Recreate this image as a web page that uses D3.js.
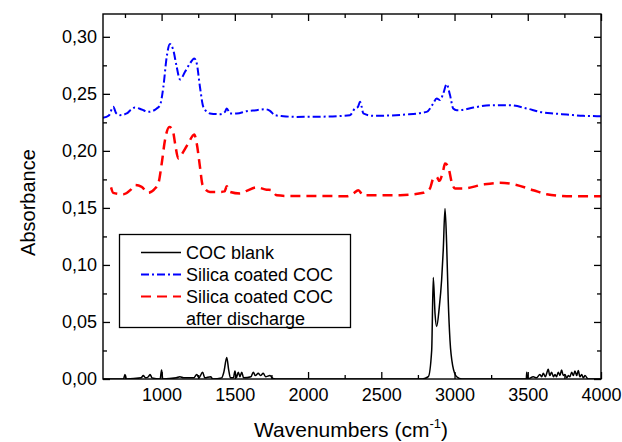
<!DOCTYPE html>
<html>
<head>
<meta charset="utf-8">
<script src="https://cdn.jsdelivr.net/npm/d3@7"></script>
<style>
  html, body { margin: 0; padding: 0; background: #fff; }
  svg { display: block; font-family: "Liberation Sans", Arial, sans-serif; }
</style>
</head>
<body>
<svg id="chart" width="622" height="442"></svg>
<script>
// FTIR spectra: wavenumber (cm-1) and absorbance for each sample
const blankWn = [600, 740, 750, 760, 860, 875, 890, 910, 921, 935, 990, 1000, 1008, 1100, 1125, 1150,
  1220, 1240, 1255, 1280, 1295, 1335, 1350, 1410, 1425, 1445, 1458, 1470, 1490, 1501, 1510, 1524,
  1535, 1547, 1560, 1610, 1626, 1640, 1660, 1675, 1694, 1710, 1740, 1760, 1800, 2780, 2821, 2844,
  2855, 2867, 2878, 2896, 2912, 2923, 2935, 2946, 2957, 2969, 2987, 3015, 3050, 3490, 3493, 3500,
  3538, 3560, 3583, 3595, 3606, 3620, 3640, 3650, 3663, 3675, 3686, 3697, 3708, 3720, 3731, 3742,
  3754, 3766, 3777, 3788, 3800, 3811, 3822, 3834, 3845, 3856, 3868, 3880, 3890, 3913, 4000];
const blankAbs = [0, 0, 0.004, 0, 0.001, 0.003, 0.001, 0.002, 0.004, 0.001, 0, 0.008, 0, 0.001, 0.002, 0.001,
  0.001, 0.004, 0.001, 0.006, 0.001, 0.002, 0, 0.001, 0.006, 0.0188, 0.008, 0.001, 0.001, 0.007, 0.001, 0.006,
  0.002, 0.006, 0.001, 0.002, 0.006, 0.003, 0.005, 0.003, 0.005, 0.002, 0.003, 0.0005, 0, 0, 0.002, 0.025,
  0.089, 0.057, 0.046, 0.063, 0.087, 0.113, 0.1495, 0.119, 0.069, 0.034, 0.012, 0.002, 0, 0, 0.006, 0,
  0.002, 0.001, 0.004, 0.002, 0.005, 0.002, 0.0085, 0.003, 0.006, 0.002, 0.004, 0.002, 0.006, 0.003, 0.008, 0.003,
  0.004, 0.001, 0.003, 0.002, 0.006, 0.003, 0.007, 0.003, 0.0075, 0.002, 0.004, 0.001, 0.003, 0, 0];

const coatedWn = [600, 640, 670, 690, 716, 762, 790, 818, 864, 909, 940, 967, 989, 1012, 1035, 1057,
  1080, 1103, 1126, 1160, 1194, 1223, 1240, 1262, 1285, 1330, 1399, 1433, 1445, 1467, 1513, 1581,
  1649, 1706, 1740, 1774, 1831, 1922, 2100, 2286, 2320, 2340, 2355, 2366, 2377, 2445, 2673, 2810,
  2855, 2878, 2901, 2923, 2946, 2969, 2991, 3015, 3037, 3128, 3265, 3379, 3493, 3583, 3674, 3766,
  3879, 4000];
const coatedAbs = [0.229, 0.231, 0.2386, 0.233, 0.2313, 0.2328, 0.236, 0.238, 0.2363, 0.2342, 0.235, 0.2372, 0.240, 0.256, 0.2825, 0.2936,
  0.2883, 0.2737, 0.2626, 0.2693, 0.2767, 0.281, 0.2767, 0.256, 0.2386, 0.2328, 0.2322, 0.2342, 0.2372, 0.2328, 0.2328, 0.2348,
  0.2357, 0.2366, 0.2351, 0.2313, 0.2304, 0.2298, 0.2300, 0.2313, 0.2372, 0.2385, 0.243, 0.2386, 0.2328, 0.2307, 0.2319, 0.2342,
  0.2416, 0.246, 0.2445, 0.2503, 0.2585, 0.2489, 0.2372, 0.2357, 0.2357, 0.238, 0.2401, 0.240, 0.2372, 0.2342, 0.2328, 0.2319,
  0.2307, 0.2304];

const dischargedWn = [655, 670, 739, 790, 818, 864, 909, 955, 978, 1001, 1023, 1053, 1076, 1092, 1114, 1148,
  1182, 1223, 1240, 1262, 1280, 1330, 1399, 1430, 1445, 1467, 1535, 1581, 1649, 1717, 1752, 1786,
  1854, 1899, 2264, 2309, 2343, 2377, 2628, 2787, 2832, 2855, 2878, 2896, 2923, 2935, 2957, 2980,
  3003, 3060, 3196, 3310, 3401, 3538, 3629, 3766, 4000];
const dischargedAbs = [0.168, 0.1632, 0.162, 0.166, 0.170, 0.1684, 0.1632, 0.167, 0.1714, 0.189, 0.2094, 0.221, 0.2182, 0.2065, 0.1933, 0.1991,
  0.2065, 0.2144, 0.2065, 0.186, 0.170, 0.164, 0.164, 0.1645, 0.169, 0.164, 0.1626, 0.165, 0.168, 0.166, 0.1655, 0.161,
  0.1605, 0.1605, 0.1603, 0.1626, 0.1655, 0.161, 0.1612, 0.1632, 0.167, 0.1758, 0.1772, 0.1737, 0.183, 0.189, 0.186, 0.1728,
  0.167, 0.167, 0.1705, 0.172, 0.1708, 0.1655, 0.162, 0.1603, 0.1603];

const seriesNames = ["COC blank", "Silica coated COC", "Silica coated COC", "after discharge"];
const xMajorTicks = [1000, 1500, 2000, 2500, 3000, 3500, 4000];
const xMinorTicks = [750, 1250, 1750, 2250, 2750, 3250, 3750];
const yMajorTicks = [0, 0.05, 0.10, 0.15, 0.20, 0.25, 0.30];
const yMinorTicks = [0.025, 0.075, 0.125, 0.175, 0.225, 0.275];

const svg = d3.select("#chart");
const m = { left: 103, right: 601, top: 14, bottom: 379 };

const x = d3.scaleLinear().domain([600, 4000]).range([m.left, m.right]);
const y = d3.scaleLinear().domain([0, 0.32]).range([m.bottom, m.top]);

const fmt = d => d3.format(".2f")(d).replace(".", ",");

const series = [
  { wn: blankWn, abs: blankAbs, color: "#000", width: 1.5, dash: null },
  { wn: coatedWn, abs: coatedAbs, color: "#0000ff", width: 2, dash: "8,3,2,3" },
  { wn: dischargedWn, abs: dischargedAbs, color: "#ff0000", width: 2.5, dash: "10,6" }
];

const line = d3.line()
  .x(d => x(d[0]))
  .y(d => y(d[1]))
  .curve(d3.curveMonotoneX);

const plot = svg.append("g");
plot.append("defs").append("clipPath").attr("id", "clip")
  .append("rect").attr("x", m.left).attr("y", m.top)
  .attr("width", m.right - m.left).attr("height", m.bottom - m.top);

series.slice().reverse().forEach(s => {
  plot.append("path")
    .attr("clip-path", "url(#clip)")
    .attr("d", line(d3.zip(s.wn, s.abs)))
    .attr("fill", "none")
    .attr("stroke", s.color)
    .attr("stroke-width", s.width)
    .attr("stroke-dasharray", s.dash)
    .attr("stroke-linejoin", "round");
});

// Axes with inward ticks on all four sides
const axes = svg.append("g");
function styleAxis(g) {
  g.select(".domain").remove();
  g.selectAll("line").attr("stroke", "#000").attr("stroke-width", 1.3);
  g.selectAll("text").attr("fill", "#000").style("font-size", "18px")
    .style("font-family", "'Liberation Sans', Arial, sans-serif");
}

axes.append("g").attr("transform", `translate(0,${m.bottom})`)
  .call(d3.axisBottom(x).tickValues(xMajorTicks).tickSize(-7).tickPadding(9).tickFormat(d3.format("d")))
  .call(styleAxis);
axes.append("g").attr("transform", `translate(0,${m.bottom})`)
  .call(d3.axisBottom(x).tickValues(xMinorTicks).tickSize(-4).tickFormat(""))
  .call(styleAxis);
axes.append("g").attr("transform", `translate(0,${m.top})`)
  .call(d3.axisTop(x).tickValues(xMajorTicks).tickSize(-7).tickFormat(""))
  .call(styleAxis);
axes.append("g").attr("transform", `translate(0,${m.top})`)
  .call(d3.axisTop(x).tickValues(xMinorTicks).tickSize(-4).tickFormat(""))
  .call(styleAxis);

axes.append("g").attr("transform", `translate(${m.left},0)`)
  .call(d3.axisLeft(y).tickValues(yMajorTicks).tickSize(-7).tickPadding(6).tickFormat(fmt))
  .call(styleAxis);
axes.append("g").attr("transform", `translate(${m.left},0)`)
  .call(d3.axisLeft(y).tickValues(yMinorTicks).tickSize(-4).tickFormat(""))
  .call(styleAxis);
axes.append("g").attr("transform", `translate(${m.right},0)`)
  .call(d3.axisRight(y).tickValues(yMajorTicks).tickSize(-7).tickFormat(""))
  .call(styleAxis);
axes.append("g").attr("transform", `translate(${m.right},0)`)
  .call(d3.axisRight(y).tickValues(yMinorTicks).tickSize(-4).tickFormat(""))
  .call(styleAxis);

axes.append("rect")
  .attr("x", m.left).attr("y", m.top)
  .attr("width", m.right - m.left).attr("height", m.bottom - m.top)
  .attr("fill", "none").attr("stroke", "#000").attr("stroke-width", 1.4);

// Axis titles
const xTitle = svg.append("text")
  .attr("x", 351).attr("y", 437)
  .attr("text-anchor", "middle")
  .style("font-size", "21px").attr("fill", "#000");
xTitle.append("tspan").text("Wavenumbers (cm");
xTitle.append("tspan").attr("dy", -9).style("font-size", "13px").text("-1");
xTitle.append("tspan").attr("dy", 9).text(")");

svg.append("text")
  .attr("transform", `translate(35,${(m.top + m.bottom) / 2 + 6}) rotate(-90)`)
  .attr("text-anchor", "middle")
  .style("font-size", "20px").attr("fill", "#000")
  .text("Absorbance");

// Legend
const legend = svg.append("g");
legend.append("rect")
  .attr("x", 119.5).attr("y", 234.5).attr("width", 231).attr("height", 93)
  .attr("fill", "#fff").attr("stroke", "#000").attr("stroke-width", 1.3);

const rowY = [252.5, 274.5, 296.5, 318.5];
series.forEach((s, i) => {
  legend.append("line")
    .attr("x1", 141).attr("x2", 181)
    .attr("y1", rowY[i]).attr("y2", rowY[i])
    .attr("stroke", s.color).attr("stroke-width", i === 0 ? 1.5 : 2)
    .attr("stroke-dasharray", s.dash);
});
seriesNames.forEach((name, i) => {
  legend.append("text")
    .attr("x", 186).attr("y", rowY[i] + 6.5)
    .style("font-size", "18px").attr("fill", "#000")
    .text(name);
});
</script>
</body>
</html>
